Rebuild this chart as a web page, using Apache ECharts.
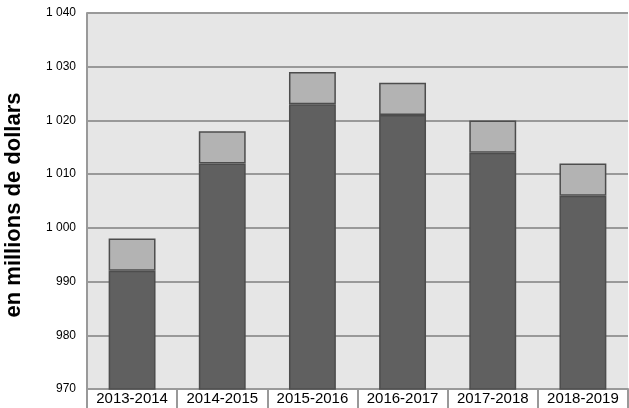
<!DOCTYPE html>
<html><head><meta charset="utf-8">
<script src="https://cdn.jsdelivr.net/npm/echarts@6/dist/echarts.min.js"></script>
<style>html,body{margin:0;padding:0;background:#fff}#c{width:629px;height:408px}</style>
</head><body><div id="c"></div>
<script>
var categories = ["2013-2014","2014-2015","2015-2016","2016-2017","2017-2018","2018-2019"];
var baseValues = [992, 1012, 1023, 1021, 1014, 1006];
var topValues = [6, 6, 6, 6, 6, 6];
var yTicks = {min: 970, max: 1040, interval: 10};
var yTitle = "en millions de dollars";

var chart = echarts.init(document.getElementById('c'), null, {renderer:'canvas'});
chart.setOption({
  animation: false,
  backgroundColor: '#ffffff',
  graphic: [{
    type: 'text', rotation: Math.PI/2,
    style: {text: yTitle, font: 'bold 22px "Liberation Sans", Arial, sans-serif', fill: '#000', textAlign: 'center', textVerticalAlign: 'middle'},
    x: 14, y: 205
  }],
  grid: {left: 87, right: 1, top: 13, bottom: 19, show: true, backgroundColor: '#e6e6e6', borderWidth: 0},
  xAxis: {
    type: 'category', data: categories,
    axisLine: {show: true, lineStyle: {color: '#999999', width: 2}},
    axisTick: {show: true, interval: 0, length: 20, lineStyle: {color: '#999999', width: 2}},
    axisLabel: {interval: 0, hideOverlap: false, color: '#000', fontSize: 15, fontFamily: '"Liberation Sans", Arial, sans-serif', margin: 2}
  },
  yAxis: {
    type: 'value', min: yTicks.min, max: yTicks.max, interval: yTicks.interval,
    axisLine: {show: true, lineStyle: {color: '#999999', width: 2}},
    axisTick: {show: false},
    splitLine: {show: true, lineStyle: {color: '#999999', width: 2}},
    axisLabel: {
      color: '#000', fontSize: 12, fontFamily: '"Liberation Sans", Arial, sans-serif', margin: 11,
      formatter: function(v){ var s = String(v); return s.length > 3 ? s.slice(0, s.length-3) + ' ' + s.slice(-3) : s; }
    }
  },
  series: [
    {type: 'bar', stack: 'a', data: baseValues, barWidth: '52%',
     itemStyle: {color: '#606060', borderColor: '#4d4d4d', borderWidth: 1.5}},
    {type: 'bar', stack: 'a', data: topValues, barWidth: '52%',
     itemStyle: {color: '#b3b3b3', borderColor: '#4d4d4d', borderWidth: 1.5}}
  ]
});
</script></body></html>
